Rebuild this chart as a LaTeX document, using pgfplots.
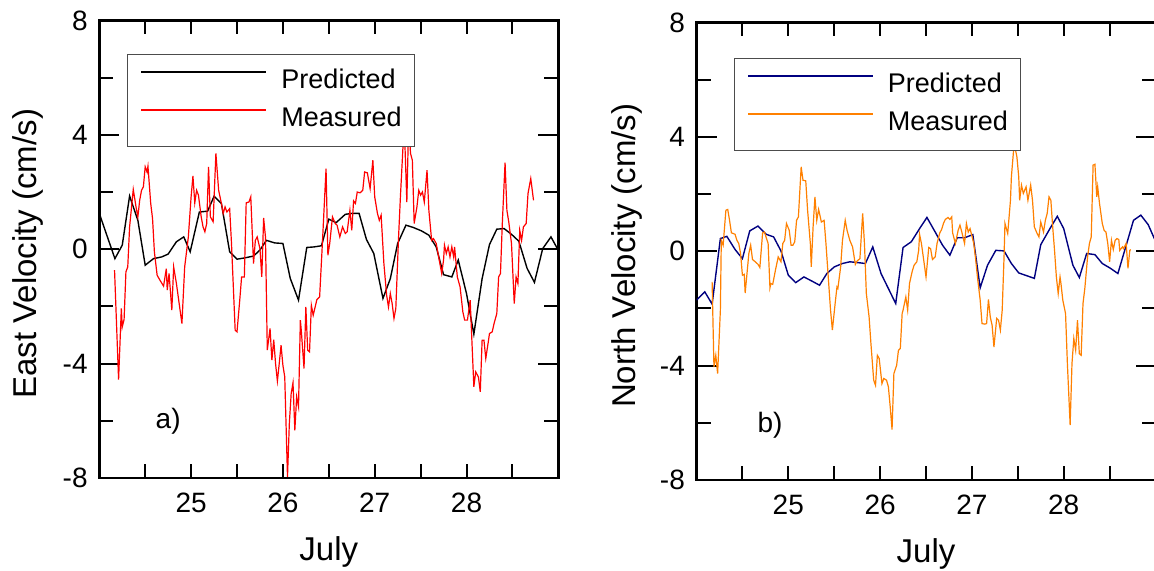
\documentclass[border=0pt]{standalone}
\usepackage{fontspec}
\setmainfont{Liberation Sans}
\usepackage{pgfplots}
\pgfplotsset{compat=1.18}
\definecolor{navyline}{HTML}{000080}
\definecolor{orangeline}{HTML}{FF8000}
\definecolor{redline}{HTML}{FF0000}
\pgfplotsset{
  velax/.style={
    scale only axis, width=229.5pt, height=228.8pt,
    xmin=24, xmax=29, ymin=-8, ymax=8,
    xtick={25,26,27,28},
    extra x ticks={24.5,25.5,26.5,27.5,28.5}, extra x tick labels={},
    ytick={-8,-4,0,4,8}, minor ytick={-6,-2,2,6},
    tick align=inside,
    axis line style={line width=1.4pt},
    every tick/.style={black, line width=1pt},
    major tick length=10pt, minor tick length=7pt,
    xtick style={/pgfplots/major tick length=7pt},
    extra x tick style={/pgfplots/major tick length=10pt},
    tick label style={font=\fontsize{14}{16}\selectfont},
    /pgf/number format/assume math mode=true,
    yticklabel style={xshift=-2.3pt},
    xticklabel style={yshift=-3.8pt},
    xlabel={July},
    every axis x label/.style={at={(axis description cs:0.5,0)}, anchor=base, yshift=-41.3pt, font=\fontsize{16.5}{18}\selectfont},
    legend cell align=left,
    legend image code/.code={\draw[##1] (0pt,4.85pt) -- (62.5pt,4.85pt);},
    legend style={anchor=north west, draw=black!70, line width=0.5pt,
      inner xsep=6.5pt, inner ysep=7pt, row sep=6pt, column sep=7pt,
      font=\fontsize{13.5}{15}\selectfont,
      nodes={inner sep=0pt, text height=10pt, text depth=3pt}},
  }
}
\begin{document}
\begin{tikzpicture}
\useasboundingbox (0,0) rectangle (577pt,285pt);
% ---------------- left panel
\begin{axis}[velax, at={(49.65pt,46pt)}, anchor=south west,
  ylabel={East Velocity (cm/s)},
  every axis y label/.style={at={([xshift=-31.65pt]axis description cs:0,0.49)}, rotate=90, anchor=base, font=\fontsize{16.5}{18}\selectfont},
  legend style={at={(0.0603,0.9268)}}]
\addlegendimage{draw=black, line width=1pt}
\addlegendentry{Predicted}
\addlegendimage{draw=redline, line width=1pt}
\addlegendentry{Measured}
\addplot[color=black, line width=0.7pt, forget plot] coordinates {
(24.00,1.25)(24.17,-0.33)(24.25,0.14)(24.33,1.86)(24.42,1.01)(24.50,-0.56)(24.59,-0.33)(24.68,-0.27)(24.75,-0.17)(24.84,0.26)(24.92,0.43)(24.99,-0.09)(25.09,1.30)(25.18,1.33)(25.25,1.85)(25.33,1.60)(25.42,-0.09)(25.50,-0.35)(25.59,-0.30)(25.68,-0.24)(25.75,-0.03)(25.82,0.31)(25.91,0.22)(26.00,0.20)(26.08,-1.02)(26.17,-1.78)(26.26,0.06)(26.34,0.08)(26.42,0.12)(26.50,1.05)(26.58,0.93)(26.68,1.22)(26.75,1.25)(26.83,1.25)(26.91,0.34)(26.99,-0.15)(27.09,-1.72)(27.17,-1.03)(27.25,0.20)(27.34,0.84)(27.42,0.76)(27.51,0.64)(27.59,0.49)(27.67,0.08)(27.75,-0.89)(27.84,-0.97)(27.91,-0.38)(28.00,-1.55)(28.08,-2.97)(28.17,-1.03)(28.25,0.16)(28.33,0.70)(28.41,0.72)(28.49,0.52)(28.57,0.28)(28.66,-0.67)(28.74,-1.16)(28.83,0.02)(28.92,0.43)(28.99,0.02)
};
\addplot[color=redline, line width=0.6pt, forget plot] coordinates {
(24.166,-0.73)(24.21,-4.56)(24.24,-2.07)(24.25,-2.72)(24.27,-2.46)(24.29,-0.79)(24.31,-0.62)(24.33,0.78)(24.37,2.09)(24.40,1.48)(24.42,1.13)(24.44,1.71)(24.46,2.06)(24.48,2.18)(24.50,2.88)(24.52,2.70)(24.53,2.90)(24.56,1.60)(24.58,1.07)(24.60,-0.09)(24.63,-0.91)(24.66,-1.08)(24.70,-1.29)(24.73,-0.68)(24.74,-1.43)(24.76,-0.85)(24.79,-2.13)(24.81,-0.62)(24.84,-1.20)(24.87,-1.90)(24.90,-2.60)(24.93,-0.62)(24.97,0.43)(25.00,1.83)(25.02,2.56)(25.04,1.62)(25.06,2.06)(25.08,1.89)(25.11,1.13)(25.13,0.78)(25.15,0.61)(25.17,0.90)(25.19,2.88)(25.21,1.13)(25.24,0.96)(25.27,3.35)(25.30,2.06)(25.33,1.60)(25.35,1.25)(25.37,1.48)(25.39,1.30)(25.42,1.42)(25.44,0.20)(25.48,-2.83)(25.50,-2.89)(25.53,-1.78)(25.55,-0.97)(25.58,-0.97)(25.60,1.62)(25.63,1.65)(25.65,1.83)(25.68,-0.50)(25.70,0.31)(25.72,0.43)(25.75,0.02)(25.77,-0.97)(25.79,1.09)(25.81,0.43)(25.83,-3.53)(25.86,-2.77)(25.88,-3.88)(25.90,-3.16)(25.92,-4.00)(25.94,-4.61)(25.96,-4.00)(25.98,-3.36)(26.00,-4.06)(26.02,-4.46)(26.05,-7.96)(26.07,-6.10)(26.09,-5.05)(26.11,-4.67)(26.13,-6.33)(26.15,-5.16)(26.17,-5.51)(26.19,-2.48)(26.20,-2.83)(26.23,-4.17)(26.25,-2.02)(26.27,-3.53)(26.29,-3.59)(26.31,-1.96)(26.33,-2.31)(26.36,-1.90)(26.37,-1.76)(26.40,-1.67)(26.43,0.20)(26.47,2.82)(26.49,-0.21)(26.51,0.20)(26.54,1.13)(26.57,0.90)(26.59,0.84)(26.62,0.43)(26.65,0.78)(26.68,0.55)(26.70,0.61)(26.73,1.36)(26.75,0.66)(26.77,1.69)(26.79,1.60)(26.81,2.00)(26.84,1.97)(26.87,2.06)(26.89,2.70)(26.92,2.67)(26.95,2.12)(26.98,3.11)(27.00,1.83)(27.03,1.25)(27.05,1.01)(27.07,1.19)(27.10,-0.50)(27.13,-1.61)(27.15,-2.02)(27.17,-1.55)(27.19,-1.90)(27.21,-2.42)(27.23,-2.07)(27.26,0.43)(27.28,1.83)(27.31,3.70)(27.33,3.58)(27.35,1.65)(27.37,4.45)(27.39,3.35)(27.41,3.11)(27.43,0.90)(27.46,1.48)(27.48,2.06)(27.50,1.89)(27.52,2.00)(27.54,1.65)(27.57,2.76)(27.59,1.36)(27.62,0.31)(27.64,0.37)(27.67,0.20)(27.70,-0.33)(27.73,-0.85)(27.75,-0.38)(27.76,0.14)(27.78,-0.15)(27.80,0.08)(27.82,-0.27)(27.84,0.08)(27.86,-0.27)(27.87,0.08)(27.90,-0.97)(27.93,-1.32)(27.96,-2.19)(27.98,-2.48)(28.01,-2.48)(28.04,-1.78)(28.06,-3.30)(28.08,-4.81)(28.10,-4.29)(28.13,-4.47)(28.15,-4.99)(28.17,-3.18)(28.19,-3.18)(28.21,-3.82)(28.24,-3.18)(28.25,-2.95)(28.28,-2.89)(28.30,-2.60)(28.33,-2.25)(28.35,-0.97)(28.37,-0.85)(28.39,0.90)(28.42,3.03)(28.44,1.36)(28.46,0.96)(28.49,0.20)(28.52,-1.90)(28.54,-0.97)(28.56,-1.20)(28.58,0.66)(28.60,0.31)(28.62,0.78)(28.65,0.90)(28.67,1.95)(28.70,2.47)(28.73,1.71)
};
\node[font=\fontsize{14}{16}\selectfont] at (axis cs:24.75,-6) {a)};
\end{axis}
% ---------------- right panel
\begin{axis}[velax, at={(348.25pt,45pt)}, anchor=south west,
  ylabel={North Velocity (cm/s)},
  every axis y label/.style={at={([xshift=-30.75pt]axis description cs:0,0.49)}, rotate=90, anchor=base, font=\fontsize{16.5}{18}\selectfont},
  legend style={at={(0.0814,0.922)}}]
\addlegendimage{draw=navyline, line width=0.7pt}
\addlegendentry{Predicted}
\addlegendimage{draw=orangeline, line width=0.7pt}
\addlegendentry{Measured}
\addplot[color=navyline, line width=0.7pt, forget plot] coordinates {
(24.00,-1.71)(24.09,-1.42)(24.17,-1.85)(24.26,0.44)(24.33,0.52)(24.42,0.06)(24.50,-0.26)(24.58,0.71)(24.67,0.88)(24.76,0.59)(24.84,0.50)(24.92,0.01)(25.00,-0.84)(25.08,-1.10)(25.17,-0.90)(25.26,-1.05)(25.34,-1.19)(25.42,-0.78)(25.50,-0.55)(25.59,-0.43)(25.67,-0.37)(25.76,-0.40)(25.84,-0.43)(25.92,0.15)(26.01,-0.78)(26.17,-1.83)(26.25,0.13)(26.34,0.33)(26.43,0.79)(26.51,1.18)(26.60,0.67)(26.68,0.21)(26.76,-0.14)(26.84,0.47)(26.92,0.47)(27.01,0.58)(27.09,-1.28)(27.17,-0.49)(27.26,0.03)(27.35,0.01)(27.43,-0.43)(27.51,-0.76)(27.60,-0.86)(27.68,-0.95)(27.75,0.23)(27.85,0.79)(27.93,1.22)(28.00,0.79)(28.10,-0.49)(28.17,-0.92)(28.25,-0.08)(28.34,-0.12)(28.42,-0.43)(28.51,-0.60)(28.59,-0.78)(28.67,0.09)(28.76,1.08)(28.84,1.26)(28.92,0.93)(29.00,0.35)
};
\addplot[color=orangeline, line width=0.6pt, forget plot] coordinates {
(24.17,-1.07)(24.19,-4.05)(24.21,-3.64)(24.23,-4.28)(24.26,-2.06)(24.27,0.38)(24.29,0.21)(24.32,1.43)(24.34,1.46)(24.36,1.08)(24.38,0.64)(24.40,0.62)(24.42,0.59)(24.44,0.38)(24.46,0.27)(24.48,-0.08)(24.50,-0.84)(24.52,-0.81)(24.53,-1.46)(24.55,-0.78)(24.57,-0.08)(24.59,0.21)(24.61,-0.29)(24.64,-0.37)(24.67,-0.46)(24.69,-0.57)(24.72,0.64)(24.74,0.67)(24.78,0.27)(24.80,-1.28)(24.81,-1.13)(24.83,-1.16)(24.86,-0.66)(24.89,-0.20)(24.92,-0.37)(24.94,0.27)(24.96,0.38)(24.98,0.97)(25.01,0.73)(25.03,0.21)(25.05,0.21)(25.07,0.33)(25.09,1.08)(25.11,1.20)(25.13,2.37)(25.14,2.95)(25.16,2.48)(25.19,2.46)(25.21,1.43)(25.24,0.27)(25.25,-0.55)(25.27,0.85)(25.29,1.90)(25.31,1.08)(25.33,1.46)(25.34,1.32)(25.36,1.02)(25.39,1.08)(25.41,0.27)(25.44,-1.13)(25.46,-2.06)(25.48,-2.76)(25.51,-1.83)(25.53,-1.25)(25.54,-1.30)(25.57,-0.55)(25.59,0.38)(25.62,1.08)(25.64,0.73)(25.67,0.38)(25.70,0.15)(25.73,-0.46)(25.75,-0.34)(25.78,-0.26)(25.81,1.32)(25.83,0.23)(25.85,-1.48)(25.88,-2.30)(25.90,-3.23)(25.93,-4.51)(25.95,-4.69)(25.97,-3.64)(25.99,-3.75)(26.02,-4.63)(26.04,-4.45)(26.07,-4.51)(26.09,-4.74)(26.11,-5.44)(26.13,-6.24)(26.15,-4.28)(26.18,-3.99)(26.20,-3.46)(26.22,-3.40)(26.24,-2.18)(26.25,-2.06)(26.28,-1.60)(26.30,-2.06)(26.32,-1.13)(26.35,-0.70)(26.37,-0.49)(26.40,-0.37)(26.42,0.03)(26.43,0.59)(26.45,0.27)(26.48,-0.43)(26.50,-0.90)(26.53,0.13)(26.55,0.09)(26.57,-0.29)(26.60,-0.20)(26.62,0.27)(26.65,0.64)(26.67,0.76)(26.69,0.97)(26.71,1.11)(26.74,1.18)(26.76,1.11)(26.78,1.20)(26.79,0.64)(26.82,0.27)(26.85,0.73)(26.87,0.91)(26.89,0.67)(26.92,0.27)(26.94,0.97)(26.96,0.67)(26.98,0.79)(27.02,0.27)(27.04,-0.26)(27.06,-0.90)(27.09,-1.71)(27.11,-2.53)(27.14,-2.55)(27.16,-2.53)(27.18,-1.69)(27.20,-2.30)(27.22,-2.59)(27.24,-3.35)(27.27,-2.35)(27.29,-2.41)(27.31,-2.76)(27.33,-2.06)(27.35,-0.20)(27.36,0.97)(27.39,0.62)(27.42,1.78)(27.43,2.60)(27.46,3.77)(27.49,3.30)(27.51,2.60)(27.52,1.78)(27.54,2.31)(27.56,2.02)(27.59,2.25)(27.61,1.78)(27.64,2.31)(27.66,1.78)(27.68,0.85)(27.71,0.62)(27.73,0.50)(27.75,1.02)(27.78,0.67)(27.80,1.08)(27.82,1.32)(27.84,1.90)(27.86,1.78)(27.88,0.85)(27.90,0.03)(27.92,-0.90)(27.94,-1.48)(27.96,-0.90)(27.97,-1.13)(27.99,-1.71)(28.02,-2.18)(28.04,-3.93)(28.07,-6.08)(28.09,-3.93)(28.11,-3.05)(28.13,-3.46)(28.15,-2.41)(28.17,-3.58)(28.19,-3.64)(28.21,-1.83)(28.23,-1.30)(28.26,-0.20)(28.28,0.27)(28.30,0.50)(28.32,3.01)(28.34,3.04)(28.36,1.90)(28.37,2.25)(28.39,1.67)(28.42,0.97)(28.44,0.73)(28.46,0.67)(28.48,0.27)(28.50,-0.37)(28.52,0.38)(28.54,0.06)(28.56,0.38)(28.58,0.44)(28.60,0.41)(28.61,0.03)(28.64,0.15)(28.65,0.09)(28.68,0.27)(28.70,-0.60)(28.72,0.03)(28.73,0.06)
};
\node[font=\fontsize{14}{16}\selectfont] at (axis cs:24.8,-6.08) {b)};
\end{axis}
\end{tikzpicture}
\end{document}
